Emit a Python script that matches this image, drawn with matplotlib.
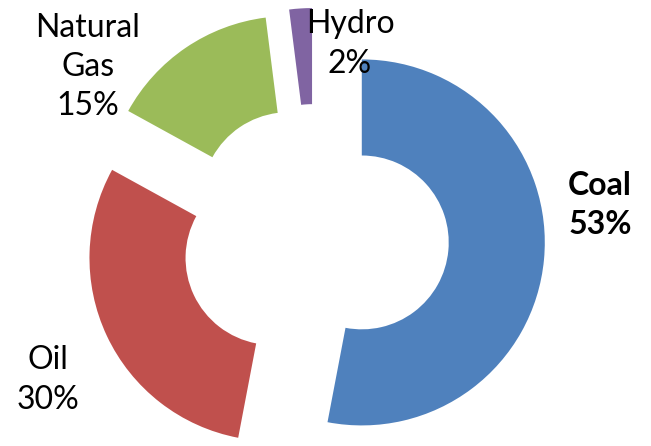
import matplotlib
matplotlib.use("Agg")
import matplotlib.pyplot as plt

# energy mix, exploded donut
sources = ["Coal", "Oil", "Natural Gas", "Hydro"]
shares = [53, 30, 15, 2]
colors = ["#4F81BD", "#C0504D", "#9BBB59", "#8064A2"]
label_text = ["Coal\n53%", "Oil\n30%", "Natural\nGas\n15%", "Hydro\n2%"]

W, H = 651, 446
R = 183
fig = plt.figure(figsize=(W / 100, H / 100), dpi=100)
ax = fig.add_axes([0, 0, 1, 1])

# explode is an absolute offset in data units (pixels here)
ax.pie(shares, colors=colors, startangle=90, counterclock=False,
       center=(315, H - 238), radius=R, explode=[47] * 4,
       wedgeprops=dict(width=R * 0.525, linewidth=0))

# pie() resets limits, so set them afterwards (pixel coords)
ax.set_xlim(0, W)
ax.set_ylim(0, H)
ax.set_aspect("equal")
ax.axis("off")

# label positions in pixel coords (top-left origin)
pos = [(600, 205), (48, 380), (88, 67), (350, 44)]
for txt, (x, y), src in zip(label_text, pos, sources):
    ax.text(x, H - y, txt, ha="center", va="center", ma="center",
            fontsize=23, family="Lato", linespacing=1.38,
            fontweight="bold" if src == "Coal" else "normal")

fig.savefig("out.png", dpi=100)
